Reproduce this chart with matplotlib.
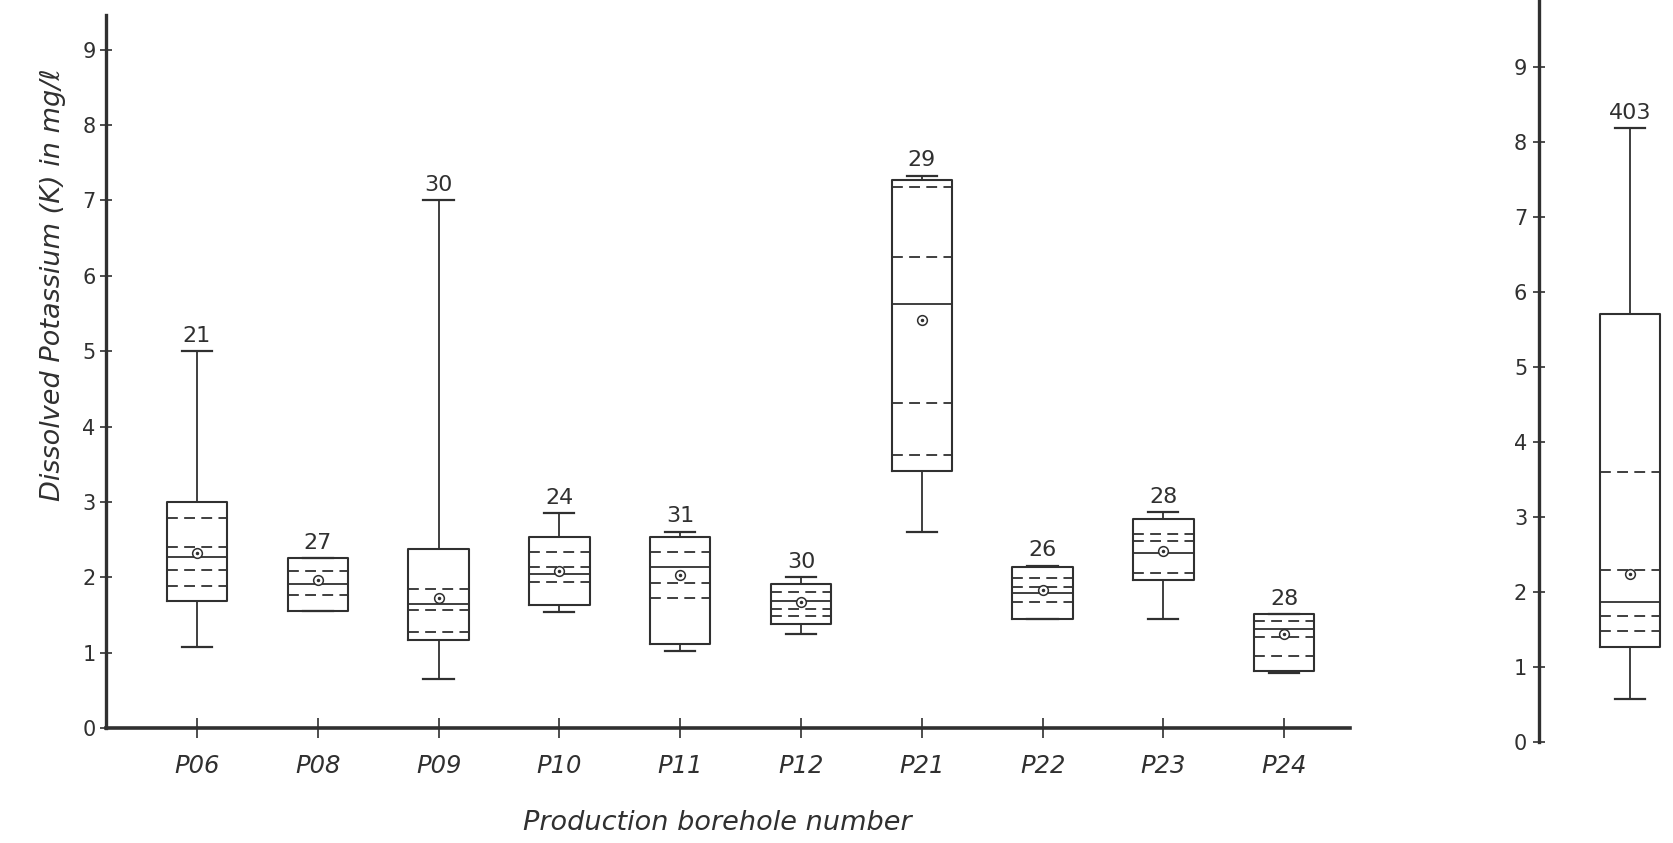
import matplotlib
matplotlib.use("Agg")
import matplotlib.pyplot as plt

# potassium statistics per production borehole (mg/l)
boreholes = ['P06', 'P08', 'P09', 'P10', 'P11', 'P12', 'P21', 'P22', 'P23', 'P24']
counts = [21, 27, 30, 24, 31, 30, 29, 26, 28, 28]
whisker_lo = [1.08, 1.55, 0.65, 1.54, 1.02, 1.25, 2.60, 1.45, 1.45, 0.73]
whisker_hi = [5.00, 2.25, 7.00, 2.85, 2.60, 2.00, 7.33, 2.15, 2.86, 1.51]
box_lo = [1.68, 1.55, 1.17, 1.63, 1.11, 1.38, 3.41, 1.45, 1.97, 0.75]
box_hi = [3.00, 2.25, 2.37, 2.53, 2.53, 1.91, 7.27, 2.14, 2.77, 1.51]
medians = [2.27, 1.91, 1.64, 2.04, 2.14, 1.68, 5.62, 1.79, 2.32, 1.32]
means = [2.32, 1.97, 1.72, 2.08, 2.03, 1.67, 5.41, 1.83, 2.35, 1.25]
dashed = [
    [2.78, 2.40, 2.09, 1.88],
    [2.08, 1.76],
    [1.84, 1.56, 1.28],
    [2.33, 2.14, 1.94],
    [2.33, 1.92, 1.73],
    [1.80, 1.58, 1.49],
    [7.18, 6.25, 4.31, 3.62],
    [1.99, 1.87, 1.67],
    [2.57, 2.48, 2.05],
    [1.42, 1.21, 0.95],
]

# all boreholes pooled
all_count = 403
all_whisker = [0.57, 8.18]
all_box = [1.27, 5.71]
all_median = 1.86
all_mean = 2.24
all_dashed = [3.60, 2.29, 1.68, 1.48]

ink = '#303030'
W, H = 1673, 843
BOX_W = 0.5
DASH = (0, (6, 3.5))


def draw_boxes(ax, pos, lo, hi, q1, q3, med, mean, dash_sets, ns):
    stats = []
    for i in range(len(pos)):
        stats.append(dict(med=med[i], q1=q1[i], q3=q3[i], whislo=lo[i],
                          whishi=hi[i], mean=mean[i], fliers=[]))
    ax.bxp(stats, positions=pos, widths=BOX_W, capwidths=0.25,
           showmeans=True, showfliers=False,
           boxprops=dict(color=ink, lw=1.5),
           whiskerprops=dict(color=ink, lw=1.3),
           capprops=dict(color=ink, lw=1.6),
           medianprops=dict(color=ink, lw=1.3),
           meanprops=dict(marker='o', markersize=7, markerfacecolor='white',
                          markeredgecolor=ink, markeredgewidth=1.1))
    for i, x in enumerate(pos):
        ax.hlines(dash_sets[i], x - BOX_W / 2, x + BOX_W / 2, colors=ink,
                  lw=1.3, linestyles=DASH)
        ax.plot(x, mean[i], marker='.', ms=3, color=ink, zorder=5)
        ax.annotate(str(ns[i]), (x, hi[i]), xytext=(0, 4),
                    textcoords='offset points', ha='center', va='bottom',
                    fontsize=16, color=ink)


fig = plt.figure(figsize=(W / 100, H / 100), dpi=100)

# main panel
ax = fig.add_axes([106 / W, (H - 728) / H, (1350 - 106) / W, 713 / H])
pos = list(range(len(boreholes)))
draw_boxes(ax, pos, whisker_lo, whisker_hi, box_lo, box_hi, medians, means,
           dashed, counts)
ax.set_xlim(-0.753, 9.545)
ax.set_ylim(0, 9.46)
ax.set_yticks(range(10))
ax.set_xticks(pos, boreholes)
for lab in ax.get_xticklabels():
    lab.set_style('italic')
ax.spines[['top', 'right']].set_visible(False)
ax.spines['left'].set_linewidth(2.4)
ax.spines['bottom'].set_linewidth(2.6)
ax.spines[['left', 'bottom']].set_color(ink)
ax.tick_params(axis='y', direction='inout', length=9, width=1.2, colors=ink,
               labelsize=15, pad=3)
ax.tick_params(axis='x', direction='inout', length=14, width=1.2, colors=ink,
               labelsize=17.5, pad=12)
fig.text(717 / W, 1 - 823 / H, 'Production borehole number', ha='center',
         va='center', fontsize=19.5, style='italic', color=ink)
fig.text(53 / W, 1 - 285 / H, 'Dissolved Potassium (K) in mg/ℓ', rotation=90,
         ha='center', va='center', fontsize=19.5, style='italic', color=ink)

# pooled panel
ax2 = fig.add_axes([1539 / W, (H - 742) / H, (W - 1539) / W, 742 / H])
draw_boxes(ax2, [0], [all_whisker[0]], [all_whisker[1]], [all_box[0]],
           [all_box[1]], [all_median], [all_mean], [all_dashed], [all_count])
ax2.set_xlim(-0.753, 0.356)
ax2.set_ylim(0, 9.89)
ax2.set_yticks(range(10))
ax2.set_xticks([])
ax2.spines[['top', 'right', 'bottom']].set_visible(False)
ax2.spines['left'].set_linewidth(2.4)
ax2.spines['left'].set_color(ink)
ax2.tick_params(axis='y', direction='inout', length=9, width=1.2, colors=ink,
                labelsize=15, pad=4)

fig.savefig('out.png', dpi=100, facecolor='white')
